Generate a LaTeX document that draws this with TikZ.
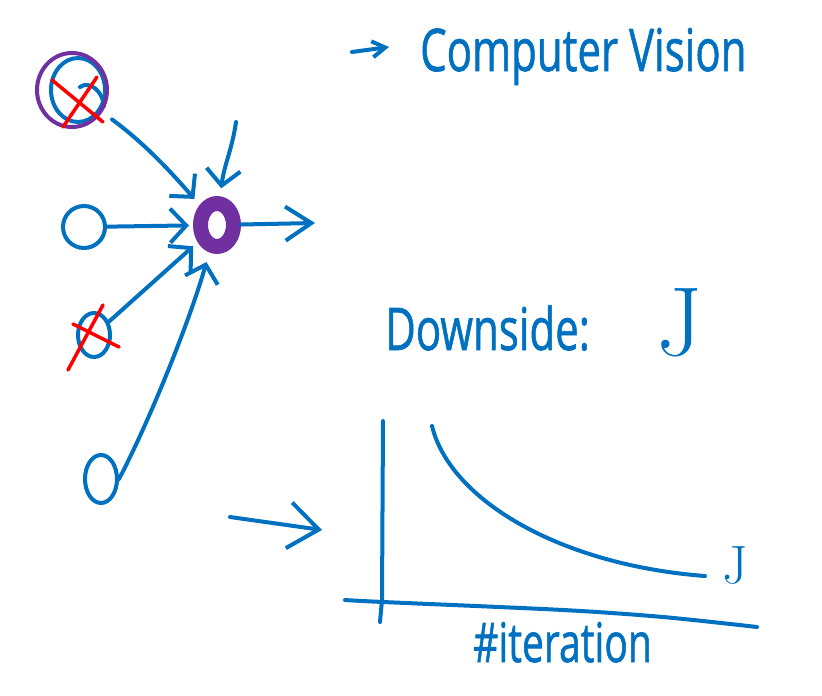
\documentclass[tikz,border=0pt]{standalone}
\usepackage{fontspec}
\newfontfamily\hand{Open Sans}[FakeBold=1.2]
\usetikzlibrary{arrows.meta,shapes.geometric}
\definecolor{hblue}{RGB}{0,112,192}
\definecolor{hpurple}{RGB}{112,48,160}
\definecolor{hred}{RGB}{255,0,0}
\begin{document}
\begin{tikzpicture}[x=1pt,y=-1pt, line cap=round, line join=round,
  ink/.style={draw=hblue, line width=4pt},
  arr/.style={ink, -{Straight Barb[length=16pt,width=34pt]}},
  ell/.style={ellipse, draw=hblue, line width=4pt, inner sep=0pt},
  cross/.style={draw=hred, line width=3.5pt},
  hw/.style={text=hblue, inner sep=0pt, font=\hand\fontsize{42}{50}\selectfont},
  sym/.style={text=hblue, inner sep=0pt}]
\useasboundingbox (0,0) rectangle (822,696);

% --- network ---
\node[ell, minimum width=54pt, minimum height=64pt] (n1) at (78,90) {};
\draw[ink] (80,87) .. controls (90,80) and (103,92) .. (104,106);
\node[ellipse, draw=hpurple, line width=4pt, minimum width=70pt, minimum height=74pt, inner sep=0pt] (n1p) at (72,90) {};
\node[ell, minimum width=42pt, minimum height=42pt] (n2) at (84,227) {};
\node[ell, minimum width=32pt, minimum height=44pt] (n3) at (94,335) {};
\node[ell, minimum width=32pt, minimum height=48pt] (n4) at (101,479) {};
\node[ellipse, draw=hpurple, line width=15pt, minimum width=33pt, minimum height=43pt, inner sep=0pt] (c) at (217,225) {};

\draw[cross] (52,80) -- (103,122);
\draw[cross] (97,77) -- (63,127);
\draw[cross] (73,324) -- (119,347);
\draw[cross] (103,305) -- (68,370);

\coordinate (v0) at (236,122);
\coordinate (o1) at (315,223);
\draw[arr, shorten <=12pt, shorten >=8pt] (n1p) .. controls (140,140) and (165,165) .. (c);
\draw[arr, shorten >=8pt] (v0) .. controls (232,150) and (224,165) .. (c);
\draw[arr, shorten >=4pt] (n2) -- (c);
\draw[arr, shorten >=6pt] (n3) -- (c);
\draw[arr, shorten >=10pt] (n4.east) .. controls (150,420) and (190,320) .. (c);
\draw[ink, -{Straight Barb[length=26pt,width=34pt]}] (c) -- (o1);

% --- arrows ---
\coordinate (a1) at (352,52);
\coordinate (a2) at (389,47);
\draw[ink, -{Straight Barb[length=13pt,width=16pt]}] (a1) -- (a2);
\coordinate (b1) at (230,517);
\coordinate (b2) at (322,530);
\draw[ink, -{Straight Barb[length=30pt,width=46pt]}] (b1) -- (b2);

% --- texts ---
\node[hw, anchor=base west] (cv) at (420,71) {\scalebox{1}[1.4]{Computer Vision}};
\node[hw, anchor=base west] (ds) at (385,350) {\scalebox{1}[1.4]{Downside:}};
\node[sym, font=\fontsize{98}{100}\selectfont] (j1) at (680,323) {J};
\node[hw, anchor=base west, font=\hand\fontsize{39}{46}\selectfont] (it) at (473,662) {\scalebox{1}[1.4]{\#iteration}};
\node[sym, font=\fontsize{54}{56}\selectfont] (j2) at (735,565) {J};

% --- plot ---
\draw[ink] (383,421) -- (382,600) -- (380,622);
\draw[ink] plot[smooth] coordinates {(345,600) (383,602) (563,610) (663,617) (757,627)};
\draw[ink] (432,426) .. controls (450,500) and (560,565) .. (705,576);
\end{tikzpicture}
\end{document}
